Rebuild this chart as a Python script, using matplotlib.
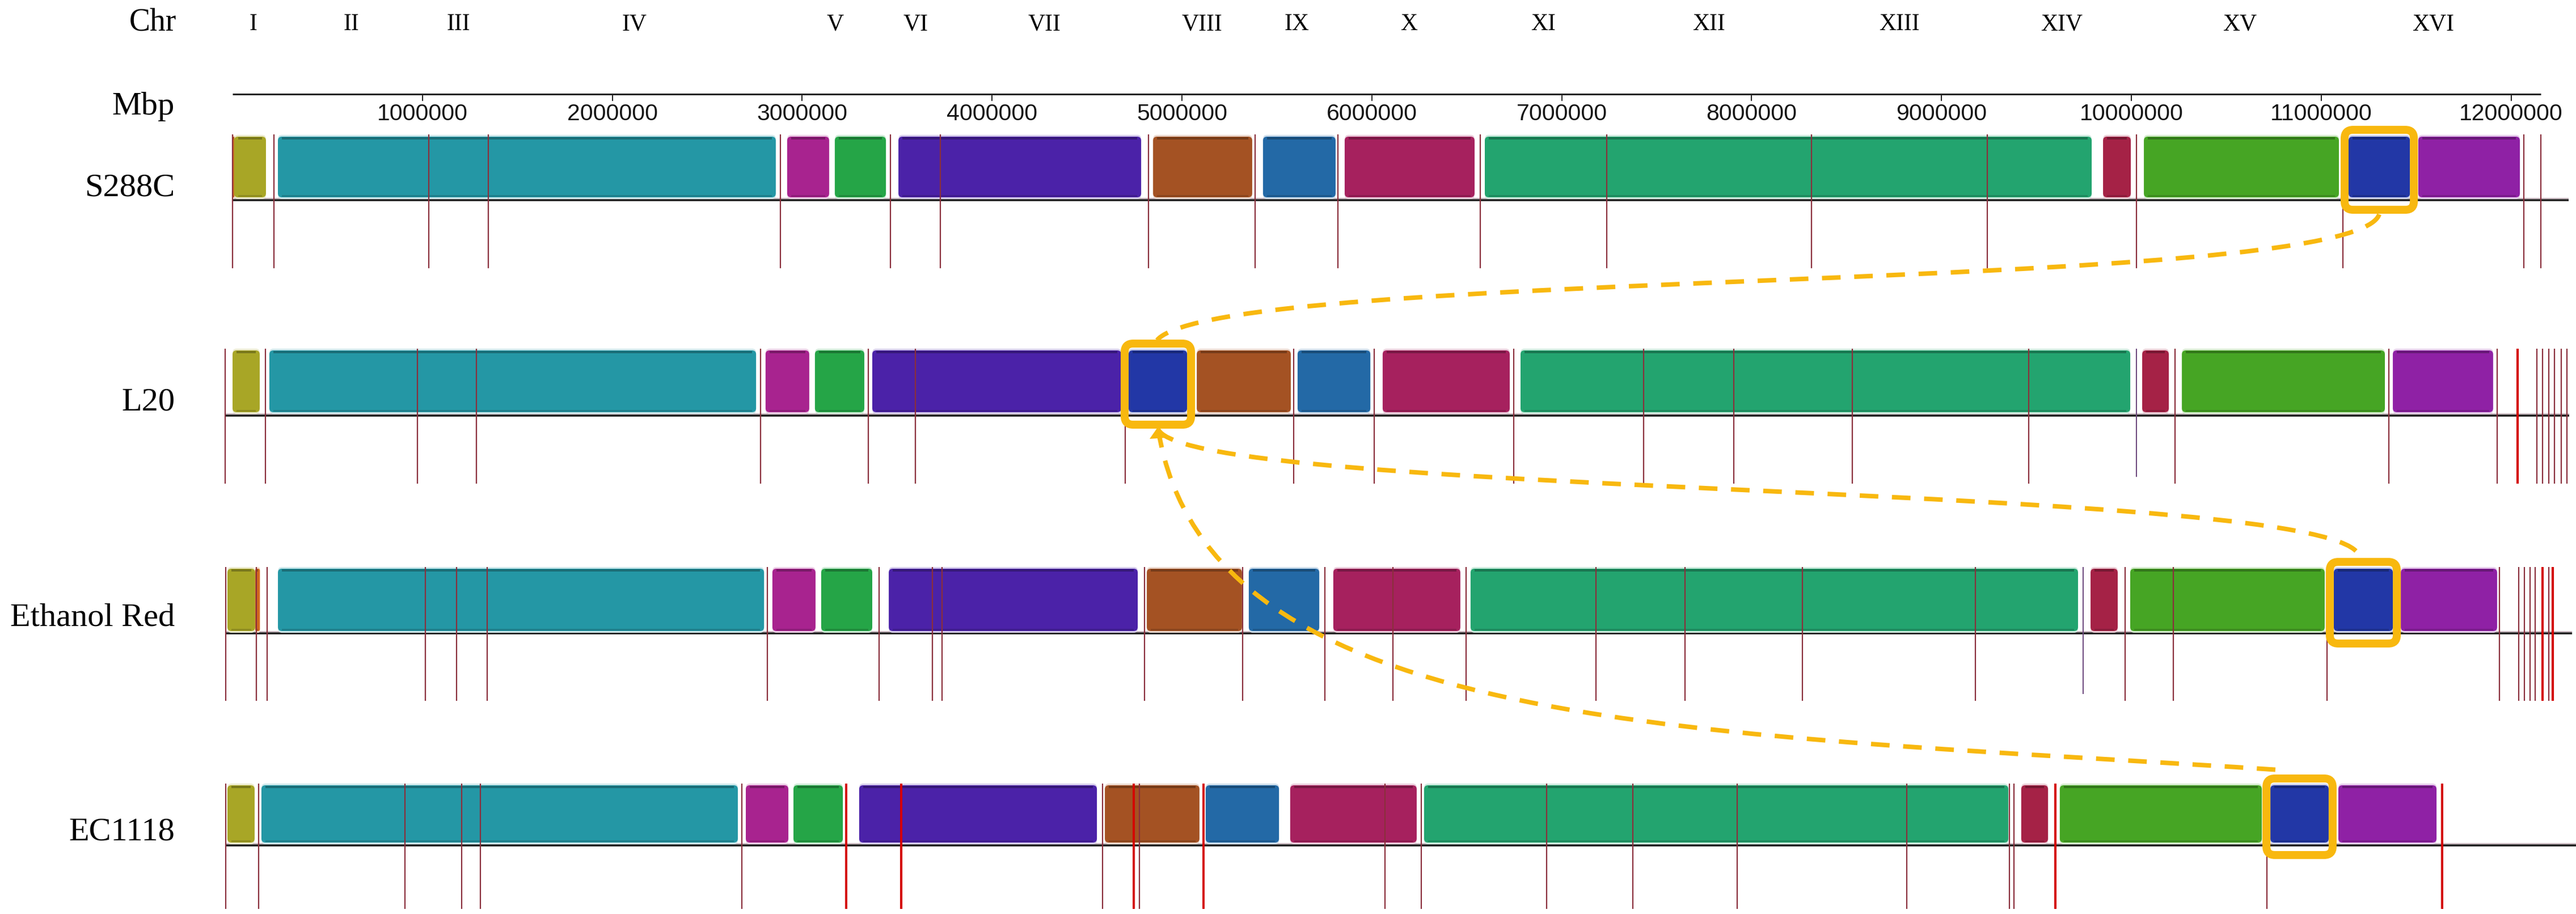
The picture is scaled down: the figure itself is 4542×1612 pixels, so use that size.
import matplotlib
matplotlib.use("Agg")
import matplotlib.pyplot as plt
from matplotlib.patches import FancyBboxPatch, Rectangle, PathPatch, Polygon
from matplotlib.path import Path

# ---------------- data (positions in Mbp along each genome) ----------------
genomes = ["S288C", "L20", "Ethanol Red", "EC1118"]
chromosomes = ["I", "II", "III", "IV", "V", "VI", "VII", "VIII", "IX", "X",
               "XI", "XII", "XIII", "XIV", "XV", "XVI"]
tick_values = [1, 2, 3, 4, 5, 6, 7, 8, 9, 10, 11, 12]
tick_labels = ["1000000", "2000000", "3000000", "4000000", "5000000", "6000000",
               "7000000", "8000000", "9000000", "10000000", "11000000", "12000000"]

lcb_colors = {
    "olive": "#A8A626", "orange": "#D2691E", "teal": "#2497A5",
    "magenta": "#A8238F", "green": "#25A547", "indigo": "#4B22A8",
    "brown": "#A45223", "steel": "#2369A6", "crimson": "#A6215E",
    "seagreen": "#23A46F", "smallcrimson": "#A52246", "lime": "#46A524",
    "darkblue": "#2237A6", "purple": "#8F21A5",
}

s288c_lcb = ["orange", "olive", "teal", "magenta", "green", "indigo", "brown", "steel",
             "crimson", "seagreen", "smallcrimson", "lime", "darkblue", "purple"]
s288c_start = [0.000, 0.008, 0.239, 2.921, 3.172, 3.507, 4.848, 5.427, 5.857, 6.595,
               9.851, 10.066, 11.144, 11.511]
s288c_end = [0.010, 0.176, 2.861, 3.142, 3.441, 4.785, 5.370, 5.809, 6.541, 9.791,
             9.997, 11.093, 11.467, 12.046]
s288c_bounds = [0, 0.218, 1.033, 1.347, 2.885, 3.465, 3.728, 4.824, 5.386, 5.821,
                6.571, 7.237, 8.315, 9.241, 10.027, 11.114, 12.067, 12.157]
s288c_bright = []
s288c_short = []

l20_lcb = ["olive", "teal", "magenta", "green", "indigo", "darkblue", "brown", "steel",
           "crimson", "seagreen", "smallcrimson", "lime", "purple"]
l20_start = [0.039, 0.233, 2.846, 3.106, 3.408, 4.758, 5.117, 5.648, 6.096, 6.822,
             10.096, 10.305, 11.416]
l20_end = [0.182, 2.796, 3.076, 3.366, 4.719, 5.066, 5.612, 6.031, 6.765, 10.033,
           10.236, 11.374, 11.944]
l20_bounds = [0, 0.212, 1.013, 1.323, 2.820, 3.387, 3.635, 4.740, 5.627, 6.051,
              6.786, 7.470, 7.945, 8.569, 9.498, 10.066, 10.269, 11.395, 11.965,
              12.073, 12.174, 12.204, 12.237, 12.267, 12.303, 12.333]
l20_bright = [12.073]
l20_short = [10.066]

er_lcb = ["olive", "orange", "teal", "magenta", "green", "indigo", "brown", "steel",
          "crimson", "seagreen", "smallcrimson", "lime", "darkblue", "purple"]
er_start = [0.009, 0.155, 0.275, 2.879, 3.136, 3.492, 4.851, 5.388, 5.833, 6.556,
            9.821, 10.030, 11.102, 11.455]
er_end = [0.155, 0.180, 2.835, 3.106, 3.405, 4.803, 5.352, 5.759, 6.502, 9.755,
          9.964, 11.054, 11.413, 11.962]
er_bounds = [0, 0.161, 0.218, 1.051, 1.216, 1.377, 2.852, 3.441, 3.722, 3.772,
             4.839, 5.356, 5.789, 6.147, 6.532, 7.216, 7.685, 8.303, 9.214, 9.782,
             10.003, 10.257, 11.066, 11.974, 12.076, 12.106, 12.136, 12.162,
             12.201, 12.234, 12.255]
er_bright = [12.201, 12.255]
er_short = [9.782]

ec_lcb = ["olive", "teal", "magenta", "green", "indigo", "brown", "steel",
          "crimson", "seagreen", "smallcrimson", "lime", "darkblue", "purple"]
ec_start = [0.009, 0.188, 2.739, 2.990, 3.336, 4.630, 5.161, 5.606, 6.311, 9.456,
            9.659, 10.768, 11.126]
ec_end = [0.152, 2.697, 2.963, 3.250, 4.588, 5.128, 5.547, 6.272, 9.388, 9.597,
          10.723, 11.075, 11.643]
ec_bounds = [0, 0.173, 0.944, 1.243, 1.341, 2.718, 3.268, 3.557, 4.618, 4.782,
             4.812, 5.149, 6.105, 6.296, 6.956, 7.410, 7.960, 8.853, 9.394, 9.418,
             9.636, 10.750, 11.673]
ec_bright = [3.268, 3.557, 4.782, 5.149, 9.636, 11.673]
ec_short = []

track_end = [12.303, 12.345, 12.357, 12.45]

# ---------------- layout ----------------
W, H, DPI = 4542, 1612, 100
PT = 72.0 / DPI               # points per pixel
PPM = 334.8                   # pixels per Mbp
X0 = 410                      # pixel of position 0 on S288C


def px2x(px):
    return (px - X0) / PPM


row_shift = [0.0, px2x(397), px2x(398), px2x(398)]
# (block top, block bottom, baseline, line top, line bottom, label baseline)
row_geom = [
    (241, 348, 353, 237, 473, 345),
    (618, 727, 733, 615, 853, 723),
    (1003, 1113, 1117, 1000, 1236, 1103),
    (1385, 1486, 1491, 1382, 1603, 1482),
]

rows = [
    (s288c_lcb, s288c_start, s288c_end, s288c_bounds, s288c_bright, s288c_short),
    (l20_lcb, l20_start, l20_end, l20_bounds, l20_bright, l20_short),
    (er_lcb, er_start, er_end, er_bounds, er_bright, er_short),
    (ec_lcb, ec_start, ec_end, ec_bounds, ec_bright, ec_short),
]

GOLD = "#F8B80F"
LINE_RED = "#8A2F3C"
SERIF = ["Liberation Serif", "DejaVu Serif"]
SANS = ["Liberation Sans", "DejaVu Sans"]

fig = plt.figure(figsize=(W / DPI, H / DPI), dpi=DPI)
ax = fig.add_axes([0, 0, 1, 1])
ax.set_xlim(px2x(0), px2x(W))
ax.set_ylim(H, 0)
ax.axis("off")


def darker(c, f):
    r, g, b = matplotlib.colors.to_rgb(c)
    return (r * f, g * f, b * f)


def lighter(c, f):
    r, g, b = matplotlib.colors.to_rgb(c)
    return (r + (1 - r) * f, g + (1 - g) * f, b + (1 - b) * f)


# ---------------- header ----------------
ax.text(px2x(311), 53, "Chr", ha="right", va="baseline", fontsize=40, family=SERIF)
ax.text(px2x(308), 202, "Mbp", ha="right", va="baseline", fontsize=42, family=SERIF)
for i, name in enumerate(chromosomes):
    mid = (s288c_bounds[i] + s288c_bounds[i + 1]) / 2
    ax.text(mid, 53, name, ha="center", va="baseline", fontsize=30, family=SERIF)

ruler_end = s288c_bounds[-1]
ax.plot([0, ruler_end], [166, 166], color="#222222", lw=3 * PT, solid_capstyle="butt")
clip_rect = Rectangle((px2x(0), 0), px2x(4482) - px2x(0), H, transform=ax.transData,
                      fc="none", ec="none")
for v, lab in zip(tick_values, tick_labels):
    ax.plot([v, v], [166, 177], color="#222222", lw=2 * PT)
    t = ax.text(v, 212, lab, ha="center", va="baseline", fontsize=29.5, family=SANS,
                color="#151515")
    t.set_clip_path(clip_rect)

# ---------------- genome rows ----------------
boxes = []
for gi, (lcb, st, en, bounds, bright, short) in enumerate(rows):
    top, bot, base, ltop, lbot, lab_y = row_geom[gi]
    sh = row_shift[gi]
    ax.text(px2x(308), lab_y, genomes[gi], ha="right", va="baseline", fontsize=42,
            family=SERIF)
    # baseline
    ax.plot([sh, sh + track_end[gi]], [base - 3, base - 3], color="#C9B8C0",
            lw=2 * PT, solid_capstyle="butt", zorder=1)
    ax.plot([sh, sh + track_end[gi]], [base, base], color="#1A1A1A",
            lw=3.5 * PT, solid_capstyle="butt", zorder=1)
    # blocks
    for name, s, e in zip(lcb, st, en):
        col = lcb_colors[name]
        w = e - s
        r = min(7 / PPM, w / 2.5)
        halo = FancyBboxPatch((s + sh, top - 3), w, bot - top + 6,
                              boxstyle=f"round,pad=0,rounding_size={r}",
                              mutation_aspect=PPM, fc=lighter(col, 0.78),
                              ec="none", zorder=2)
        ax.add_patch(halo)
        p = FancyBboxPatch((s + sh, top), w, bot - top,
                           boxstyle=f"round,pad=0,rounding_size={r}",
                           mutation_aspect=PPM, fc=col, ec="none", zorder=3)
        ax.add_patch(p)
        inset = min(r, w / 3)
        ax.add_patch(Rectangle((s + sh + inset, top + 1), w - 2 * inset, 4,
                               fc=darker(col, 0.72), ec="none", zorder=3.5))
        ax.add_patch(Rectangle((s + sh + inset, bot - 4), w - 2 * inset, 3,
                               fc=darker(col, 0.85), ec="none", zorder=3.5))
        if name == "darkblue":
            boxes.append((s + sh, e + sh, top, bot))
    # chromosome / contig boundaries
    for b in bounds:
        if b in bright:
            ax.plot([b + sh, b + sh], [ltop, lbot], color="#D40000", lw=4 * PT,
                    zorder=4, solid_capstyle="butt")
        elif b in short:
            ax.plot([b + sh, b + sh], [ltop, lbot - 12], color="#6E4A7E",
                    lw=2 * PT, zorder=4, solid_capstyle="butt")
        else:
            ax.plot([b + sh, b + sh], [ltop, lbot], color=LINE_RED, lw=2.2 * PT,
                    zorder=4, solid_capstyle="butt")

# ---------------- highlight boxes ----------------
LW_BOX = 14
for (x1, x2, top, bot) in boxes:
    bx1 = x1 - 7 / PPM
    bx2 = x2 + 7 / PPM
    by1 = top - 12
    by2 = bot + 22
    ax.add_patch(FancyBboxPatch((bx1, by1), bx2 - bx1, by2 - by1,
                                boxstyle=f"round,pad=0,rounding_size={15 / PPM}",
                                mutation_aspect=PPM, fc="none", ec=GOLD,
                                lw=LW_BOX * PT, zorder=6))

# ---------------- dashed connectors ----------------
curves_px = [
    [(4195, 378), (4150, 520), (2150, 470), (2040, 600)],
    [(2042, 757), (2100, 880), (4150, 850), (4160, 983)],
    [(2042, 757), (2130, 1300), (3000, 1290), (4035, 1359)],
]
for pts in curves_px:
    verts = [(px2x(x), y) for x, y in pts]
    path = Path(verts, [Path.MOVETO, Path.CURVE4, Path.CURVE4, Path.CURVE4])
    ax.add_patch(PathPatch(path, fc="none", ec=GOLD, lw=8 * PT,
                           linestyle=(0, (4.1, 3.0)), zorder=7))

# small arrow tip just below the L20 highlight box
tips_px = [
    [(2041, 754), (2027, 774), (2058, 772)],
]
for tri in tips_px:
    ax.add_patch(Polygon([(px2x(x), y) for x, y in tri], closed=True, fc=GOLD,
                         ec="none", zorder=7))

fig.savefig("out.png", dpi=DPI, facecolor="white")
